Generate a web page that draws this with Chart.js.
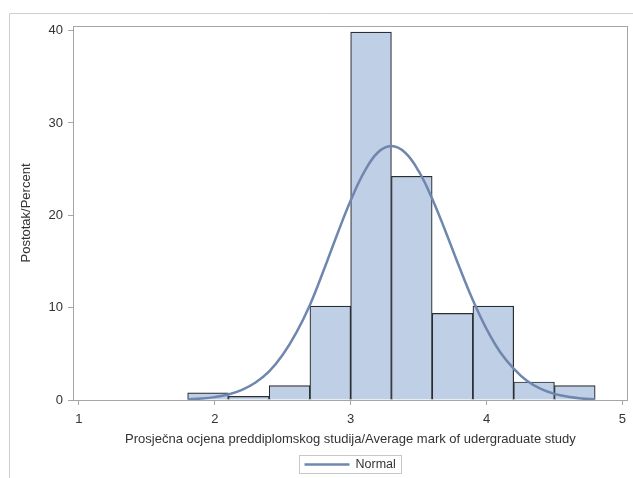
<!DOCTYPE html>
<html>
<head>
<meta charset="utf-8">
<script src="https://cdn.jsdelivr.net/npm/chart.js@4"></script>
<style>
  html, body { margin: 0; padding: 0; background: #ffffff; }
  #wrap { width: 633px; height: 478px; }
</style>
</head>
<body>
<div id="wrap"><canvas id="histChart" width="633" height="478"></canvas></div>
<script>
const binCenters = [1.95, 2.25, 2.55, 2.85, 3.15, 3.45, 3.75, 4.05, 4.35, 4.65];
const binPercents = [0.78, 0.39, 1.56, 10.16, 39.84, 24.22, 9.38, 10.16, 1.95, 1.56];

const curveX = [1.8, 1.9, 2.0, 2.1, 2.2, 2.3, 2.4, 2.5, 2.6, 2.7, 2.8, 2.9, 3.0, 3.1, 3.2, 3.3,
  3.4, 3.5, 3.6, 3.7, 3.8, 3.9, 4.0, 4.1, 4.2, 4.3, 4.4, 4.5, 4.6, 4.7, 4.8];
const curveY = [0.07, 0.15, 0.31, 0.6, 1.1, 1.9, 3.1, 4.9, 7.3, 10.3, 14.0, 17.9, 21.6, 24.7, 26.8, 27.5,
  26.8, 24.8, 21.8, 18.2, 14.4, 10.8, 7.7, 5.2, 3.4, 2.05, 1.2, 0.66, 0.35, 0.17, 0.08];

const xTicks = [1, 2, 3, 4, 5];
const yTicks = [0, 10, 20, 30, 40];

const fontFamily = "'Liberation Sans', Arial, sans-serif";
const textColor = "#333333";
const axisGray = "#a6a6a6";
const curveColor = "#6f87ae";

const framePlugin = {
  id: "frame",
  beforeDraw(chart) {
    const { ctx } = chart;
    ctx.save();
    ctx.fillStyle = "#ffffff";
    ctx.fillRect(0, 0, chart.width, chart.height);
    ctx.strokeStyle = "#cfcfcf";
    ctx.lineWidth = 1;
    ctx.beginPath();
    ctx.moveTo(9.5, chart.height);
    ctx.lineTo(9.5, 13.5);
    ctx.lineTo(chart.width, 13.5);
    ctx.stroke();
    ctx.restore();
  },
  afterDraw(chart) {
    const { ctx, chartArea } = chart;
    ctx.save();
    // plot border
    ctx.strokeStyle = axisGray;
    ctx.lineWidth = 1;
    ctx.strokeRect(Math.round(chartArea.left) + 0.5, Math.round(chartArea.top) + 0.5,
      Math.round(chartArea.right - chartArea.left) - 1, Math.round(chartArea.bottom - chartArea.top));

    // legend
    const cx = (chartArea.left + chartArea.right) / 2;
    const bx = Math.round(cx - 51) + 0.5;
    const by = 455.5;
    ctx.strokeStyle = "#c8c8c8";
    ctx.strokeRect(bx, by, 102, 18);
    ctx.strokeStyle = curveColor;
    ctx.lineWidth = 2.5;
    ctx.beginPath();
    ctx.moveTo(bx + 5, by + 9);
    ctx.lineTo(bx + 50, by + 9);
    ctx.stroke();
    ctx.fillStyle = textColor;
    ctx.font = "12.5px " + fontFamily;
    ctx.textBaseline = "middle";
    ctx.textAlign = "left";
    ctx.fillText(chart.data.datasets[0].label, bx + 56, by + 9.5);
    ctx.restore();
  }
};

function createHistogram() {
  const ctx = document.getElementById("histChart");
  if (!ctx) return;

  new Chart(ctx, {
    type: "bar",
    data: {
      datasets: [
        {
          type: "line",
          label: "Normal",
          data: curveX.map((x, i) => ({ x, y: curveY[i] })),
          borderColor: curveColor,
          borderWidth: 2.5,
          pointRadius: 0,
          tension: 0.4,
          fill: false,
          order: 0
        },
        {
          label: "Percent",
          data: binCenters.map((x, i) => ({ x, y: binPercents[i] })),
          backgroundColor: "#bfcfe5",
          borderColor: "#2a2e33",
          borderWidth: 1.2,
          barPercentage: 1,
          categoryPercentage: 1,
          order: 1
        }
      ]
    },
    options: {
      responsive: false,
      animation: false,
      devicePixelRatio: 1,
      layout: { padding: { top: 26, right: 4, left: 0, bottom: 0 } },
      plugins: {
        legend: { display: false },
        tooltip: { enabled: false }
      },
      scales: {
        x: {
          type: "linear",
          offset: false,
          min: 0.956,
          max: 5.041,
          afterBuildTicks: scale => { scale.ticks = xTicks.map(v => ({ value: v })); },
          afterFit: scale => { scale.height = 78; },
          grid: {
            display: true,
            offset: false,
            drawOnChartArea: false,
            drawTicks: true,
            tickLength: 5,
            color: axisGray
          },
          border: { display: true, color: axisGray },
          ticks: {
            color: textColor,
            padding: 7,
            maxRotation: 0,
            font: { family: fontFamily, size: 13 }
          },
          title: {
            display: true,
            text: "Prosječna ocjena preddiplomskog studija/Average mark of udergraduate study",
            color: textColor,
            font: { family: fontFamily, size: 13 },
            padding: { top: 0, bottom: 31 }
          }
        },
        y: {
          type: "linear",
          min: 0,
          max: 40.5,
          afterBuildTicks: scale => { scale.ticks = yTicks.map(v => ({ value: v })); },
          afterFit: scale => { scale.width = 73; },
          grid: {
            display: true,
            drawOnChartArea: false,
            drawTicks: true,
            tickLength: 5,
            color: axisGray
          },
          border: { display: true, color: axisGray },
          ticks: {
            color: textColor,
            padding: 5,
            font: { family: fontFamily, size: 13 }
          },
          title: {
            display: true,
            text: "Postotak/Percent",
            color: textColor,
            font: { family: fontFamily, size: 13 },
            padding: { top: 19, bottom: 0 }
          }
        }
      }
    },
    plugins: [framePlugin]
  });
}

document.addEventListener("DOMContentLoaded", createHistogram);
</script>
</body>
</html>
